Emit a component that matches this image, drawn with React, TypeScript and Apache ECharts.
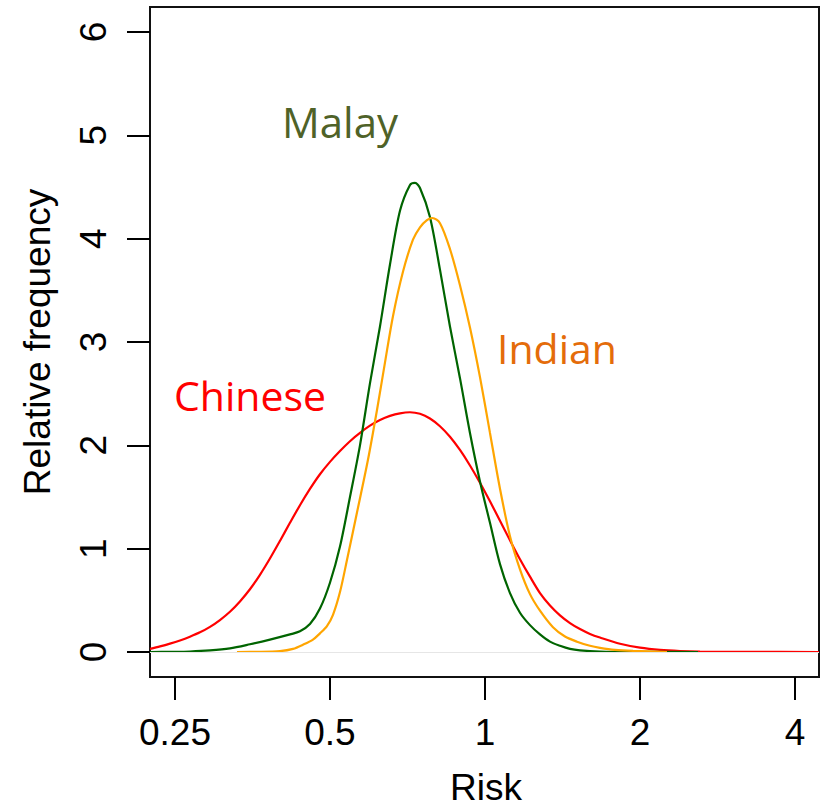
import React, { useEffect, useRef } from "react";
import * as echarts from "echarts";

// Chinese (red)
const chineseRisk = [0.2236, 0.2339, 0.2445, 0.2557, 0.2673, 0.2796, 0.2924, 0.3057, 0.3197, 0.3343, 0.3496, 0.3656, 0.3823, 0.3998, 0.4181, 0.4372, 0.4572, 0.4781, 0.5, 0.5229, 0.5468, 0.5718, 0.5979, 0.6253, 0.6539, 0.6838, 0.7151, 0.7478, 0.7819, 0.8177, 0.8551, 0.8942, 0.9351, 0.9779, 1.0226, 1.0694, 1.1183, 1.1694, 1.2229, 1.2789, 1.3373, 1.3985, 1.4625, 1.5293, 1.5993, 1.6724, 1.8289, 2.0, 2.1871, 2.3917, 2.6155, 3.2708, 4.4532];
const chineseFreq = [0.03, 0.054, 0.081, 0.112, 0.148, 0.19, 0.243, 0.309, 0.389, 0.489, 0.607, 0.747, 0.905, 1.075, 1.25, 1.42, 1.578, 1.72, 1.84, 1.945, 2.04, 2.12, 2.19, 2.245, 2.285, 2.31, 2.32, 2.305, 2.26, 2.185, 2.083, 1.955, 1.805, 1.638, 1.458, 1.27, 1.081, 0.898, 0.729, 0.57, 0.45, 0.355, 0.28, 0.222, 0.175, 0.14, 0.08, 0.042, 0.02, 0.009, 0.004, 0.001, 0];

// Malay (green)
const malayRisk = [0.2236, 0.2445, 0.2673, 0.2924, 0.3197, 0.3496, 0.3823, 0.4181, 0.4372, 0.4572, 0.4781, 0.5, 0.5229, 0.5468, 0.5718, 0.5979, 0.6253, 0.6539, 0.6838, 0.7151, 0.7312, 0.7478, 0.7819, 0.8177, 0.8551, 0.8942, 0.9351, 0.9779, 1.0226, 1.0694, 1.1183, 1.1694, 1.2229, 1.2789, 1.3373, 1.3985, 1.4625, 1.5293, 1.6724, 2.0, 2.5922];
const malayFreq = [0, 0.002, 0.005, 0.015, 0.035, 0.075, 0.12, 0.17, 0.2, 0.27, 0.42, 0.67, 1.02, 1.5, 2.0, 2.6, 3.15, 3.75, 4.27, 4.52, 4.54, 4.49, 4.21, 3.7, 3.15, 2.65, 2.12, 1.65, 1.25, 0.85, 0.57, 0.38, 0.26, 0.17, 0.1, 0.06, 0.03, 0.016, 0.005, 0.001, 0];

// Indian (orange)
const indianRisk = [0.3299, 0.3656, 0.3998, 0.4238, 0.4431, 0.4634, 0.4781, 0.4933, 0.5068, 0.5229, 0.5395, 0.5642, 0.5926, 0.6169, 0.6394, 0.6627, 0.693, 0.7247, 0.7478, 0.7714, 0.7904, 0.8177, 0.8551, 0.8942, 0.9351, 0.9779, 1.0226, 1.0694, 1.1183, 1.1694, 1.2229, 1.2789, 1.3554, 1.4301, 1.509, 1.5993, 1.6724, 1.7885, 1.9384, 2.2567];
const indianFreq = [0, 0.001, 0.008, 0.03, 0.07, 0.12, 0.18, 0.25, 0.36, 0.58, 0.89, 1.35, 1.86, 2.34, 2.8, 3.25, 3.68, 3.99, 4.11, 4.18, 4.2, 4.15, 3.9, 3.55, 3.14, 2.66, 2.12, 1.58, 1.12, 0.8, 0.56, 0.4, 0.24, 0.15, 0.1, 0.06, 0.04, 0.02, 0.01, 0];

const xTicks = [0.25, 0.5, 1, 2, 4];
const yTicks = [0, 1, 2, 3, 4, 5, 6];

const FONT = "'Liberation Sans', Arial, Helvetica, sans-serif";
const LABEL_FONT = "'Open Sans', 'Noto Sans', sans-serif";

const pairs = (xs: number[], ys: number[]) => xs.map((x, i) => [x, ys[i]]);

export default function App() {
  const ref = useRef<HTMLDivElement>(null);
  useEffect(() => {
    document.body.style.margin = "0";
    const chart = echarts.init(ref.current!, undefined, { renderer: "svg" });
    const lineCommon = {
      type: "line" as const,
      showSymbol: false,
      smooth: 0.3,
      clip: true,
    };
    chart.setOption({
      animation: false,
      backgroundColor: "#ffffff",
      grid: {
        left: 150,
        top: 7,
        right: 1,
        bottom: 131,
        show: true,
        borderColor: "#111",
        borderWidth: 2,
        backgroundColor: "transparent",
      },
      xAxis: {
        type: "log",
        logBase: 2,
        min: 0.2236,
        max: 4.4532,
        axisLine: { show: false, onZero: false },
        splitLine: { show: false },
        minorTick: { show: false },
        axisTick: {
          show: true,
          inside: false,
          length: 23,
          lineStyle: { color: "#000", width: 2 },
          customValues: xTicks,
        },
        axisLabel: {
          customValues: xTicks,
          fontFamily: FONT,
          fontSize: 37,
          color: "#000",
          margin: 37,
          formatter: (v: number) => String(v),
        },
      },
      yAxis: {
        type: "value",
        min: -0.242,
        max: 6.242,
        axisLine: { show: false, onZero: false },
        splitLine: { show: false },
        axisTick: {
          show: true,
          inside: false,
          length: 23,
          lineStyle: { color: "#000", width: 2 },
          customValues: yTicks,
        },
        axisLabel: {
          customValues: yTicks,
          rotate: 90,
          fontFamily: FONT,
          fontSize: 37,
          color: "#000",
          margin: 38,
        },
      },
      series: [
        {
          ...lineCommon,
          name: "Chinese",
          data: pairs(chineseRisk, chineseFreq),
          lineStyle: { color: "#ff0000", width: 2.2 },
          markLine: {
            silent: true,
            symbol: ["none", "none"],
            label: { show: false },
            lineStyle: { color: "#e6e6e6", width: 1, type: "solid" },
            data: [{ yAxis: 0 }],
          },
          z: 1,
        },
        {
          ...lineCommon,
          name: "Malay",
          data: pairs(malayRisk, malayFreq),
          lineStyle: { color: "#006400", width: 2.2 },
          z: 2,
        },
        {
          ...lineCommon,
          name: "Indian",
          data: pairs(indianRisk, indianFreq),
          lineStyle: { color: "#ffa500", width: 2.2 },
          z: 3,
        },
      ],
      graphic: [
        {
          type: "text",
          x: 282,
          y: 121,
          style: { text: "Malay", fill: "#4f6228", font: `42px ${LABEL_FONT}`, verticalAlign: "middle", align: "left" },
        },
        {
          type: "text",
          x: 497,
          y: 348,
          style: { text: "Indian", fill: "#e46c0a", font: `41px ${LABEL_FONT}`, verticalAlign: "middle", align: "left" },
        },
        {
          type: "text",
          x: 174,
          y: 395,
          style: { text: "Chinese", fill: "#ff0000", font: `41px ${LABEL_FONT}`, verticalAlign: "middle", align: "left" },
        },
        {
          type: "text",
          x: 486,
          y: 787,
          style: { text: "Risk", fill: "#000", font: `37px ${FONT}`, verticalAlign: "middle", align: "center" },
        },
        {
          type: "text",
          x: 37,
          y: 342,
          rotation: Math.PI / 2,
          style: { text: "Relative frequency", fill: "#000", font: `37px ${FONT}`, verticalAlign: "middle", align: "center" },
        },
      ],
    });
    return () => chart.dispose();
  }, []);
  return <div ref={ref} style={{ position: "absolute", left: 0, top: 0, width: 820, height: 808 }} />;
}
